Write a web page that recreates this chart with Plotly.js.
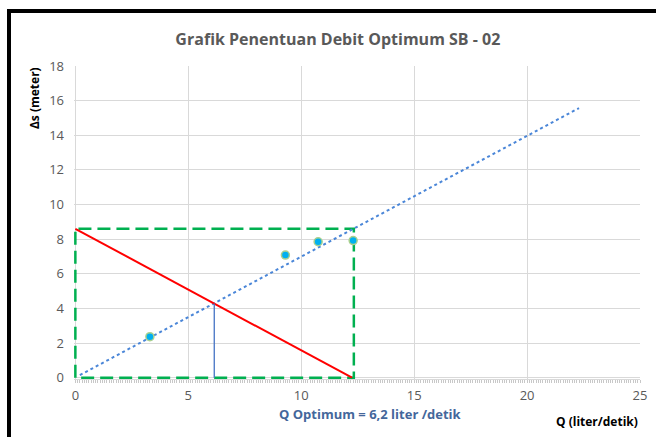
<!DOCTYPE html>
<html>
<head>
<meta charset="utf-8">
<script src="https://cdn.plot.ly/plotly-3.0.1.min.js"></script>
<style>
html,body{margin:0;padding:0;background:#fff;width:656px;height:437px;overflow:hidden;}
#chart{position:absolute;left:0;top:0;width:656px;height:437px;}
#frame{position:absolute;left:7px;top:9px;width:700px;height:500px;border:4px solid #000;box-sizing:border-box;pointer-events:none;z-index:10;}
</style>
</head>
<body>
<div id="chart"></div>
<div id="frame"></div>
<script>
// Observed pumping data
const obsQ = [3.3, 9.3, 10.75, 12.3];
const obsS = [2.37, 7.08, 7.85, 7.92];
// Linear trendline
const trendQ = [0.2, 22.3];
const trendS = [0.15, 15.57];
// Limit line (red)
const limitQ = [0, 12.25];
const limitS = [8.6, 0];
// Green dashed box
const boxQ = [0, 0, 12.33, 12.33, 0];
const boxS = [0, 8.6, 8.6, 0, 0];
// Optimum vertical line
const optQ = [6.15, 6.15];
const optS = [0, 4.28];

const xTicks = [0, 5, 10, 15, 20, 25];
const yTicks = [0, 2, 4, 6, 8, 10, 12, 14, 16, 18];

const FONT = "'Open Sans', 'Noto Sans', sans-serif";

const traces = [
  {x: boxQ, y: boxS, mode: 'lines', line: {color: '#00B050', width: 2.5, dash: '13px,6px'}, hoverinfo: 'skip'},
  {x: trendQ, y: trendS, mode: 'lines', line: {color: '#4A86D8', width: 2, dash: 'dot'}, hoverinfo: 'skip'},
  {x: limitQ, y: limitS, mode: 'lines', line: {color: '#FF0000', width: 2}},
  {x: optQ, y: optS, mode: 'lines', line: {color: '#4472C4', width: 1.3}},
  {x: obsQ, y: obsS, mode: 'markers', marker: {color: '#00B0F0', size: 8, line: {color: '#A9D08E', width: 1.5}}}
];

const layout = {
  width: 656, height: 437,
  margin: {l: 74, r: 16, t: 66, b: 58},
  paper_bgcolor: '#fff', plot_bgcolor: '#fff',
  showlegend: false,
  font: {family: FONT, color: '#595959', size: 12},
  title: {text: 'Grafik Penentuan Debit Optimum SB - 02', font: {family: FONT, size: 16, color: '#595959', weight: 'bold'}, x: 0.515, xanchor: 'center', y: 0.91, yanchor: 'middle'},
  xaxis: {
    range: [-0.06, 25], tickvals: xTicks, ticktext: xTicks.map(String),
    showgrid: true, gridcolor: '#D9D9D9', gridwidth: 1,
    zeroline: false, showline: true, linecolor: '#D9D9D9',
    ticks: '', ticklabelstandoff: 4, tickfont: {size: 13, color: '#595959'},
    minor: {dtick: 0.1, tick0: 0, ticks: 'outside', ticklen: 3, tickcolor: '#C8C8C8', showgrid: false}
  },
  yaxis: {
    range: [-0.075, 18], tickvals: yTicks, ticktext: yTicks.map(String),
    showgrid: true, gridcolor: '#D9D9D9', gridwidth: 1,
    zeroline: false, showline: false, ticks: '',
    ticklabelstandoff: 9, tickfont: {size: 13, color: '#595959'}
  },
  annotations: [
    {text: '<b>Δs (meter)</b>', xref: 'paper', yref: 'paper', x: -0.071, y: 0.897, textangle: -90, showarrow: false, font: {family: FONT, size: 12, color: '#000'}, xanchor: 'center', yanchor: 'middle'},
    {text: '<b>Q (liter/detik)</b>', xref: 'paper', yref: 'paper', x: 0.924, y: -0.135, showarrow: false, font: {family: FONT, size: 12, color: '#000'}, xanchor: 'center', yanchor: 'middle'},
    {text: '<b>Q Optimum = 6,2 liter /detik</b>', xref: 'paper', yref: 'paper', x: 0.524, y: -0.112, showarrow: false, font: {family: FONT, size: 13, color: '#44679B'}, xanchor: 'center', yanchor: 'middle'}
  ]
};

Plotly.newPlot('chart', traces, layout, {staticPlot: true, displayModeBar: false});
</script>
</body>
</html>
